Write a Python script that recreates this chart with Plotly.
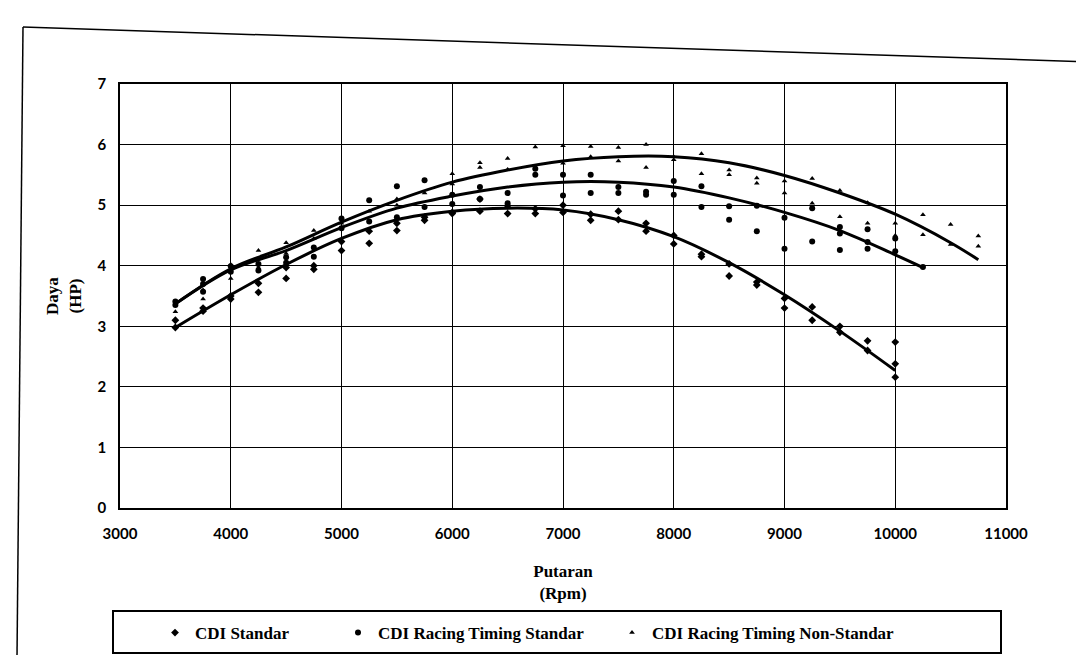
import plotly.graph_objects as go

# ---------------- data ----------------
rpm_grid = [3500, 3750, 4000, 4250, 4500, 4750, 5000, 5250, 5500, 5750,
            6000, 6250, 6500, 6750, 7000, 7250, 7500, 7750, 8000, 8250,
            8500, 8750, 9000, 9250, 9500, 9750, 10000, 10250, 10500, 10750]

cdi_standar_runs = [
    [2.98, 3.10], [3.25, 3.30], [3.50, 3.45], [3.56, 3.71], [3.79, 3.97],
    [3.94, 4.00], [4.25, 4.40], [4.37, 4.57], [4.58, 4.70], [4.75, 4.80],
    [4.88, 4.86], [4.90, 5.10], [4.86, 4.99], [4.86, 4.94], [4.88, 5.00],
    [4.75, 4.85], [4.76, 4.90], [4.57, 4.70], [4.36, 4.50], [4.19, 4.15],
    [3.83, 4.03], [3.73, 3.68], [3.30, 3.46], [3.10, 3.32], [2.90, 3.00],
    [2.60, 2.76], [2.16, 2.38, 2.74], [], [], []]

racing_standar_runs = [
    [3.41, 3.35], [3.57, 3.70, 3.78], [3.99, 3.90], [4.03, 3.92], [4.14, 4.05],
    [4.15, 4.30], [4.62, 4.78], [4.73, 5.08], [4.80, 5.31], [4.97, 5.41],
    [5.17, 5.02], [5.10, 5.30], [5.03, 5.20], [5.50, 5.60], [5.16, 5.50],
    [5.50, 5.20], [5.20, 5.30], [5.22, 5.17], [5.17, 5.40], [5.31, 4.97],
    [4.98, 4.76], [4.99, 4.57], [4.79, 4.28], [4.95, 4.40], [4.64, 4.26, 4.53],
    [4.39, 4.60, 4.28], [4.24, 4.45], [3.98], [], []]

racing_non_standar_runs = [
    [3.24], [3.45, 3.60], [3.79, 4.02], [4.25, 3.97], [4.38, 4.20],
    [4.58, 4.45], [4.78, 4.70], [4.90], [5.00, 5.10], [5.20],
    [5.52, 5.35], [5.62, 5.70], [5.77, 5.59], [5.96, 5.61], [5.98, 5.69],
    [5.97, 5.80], [5.95, 5.73], [6.00, 5.62], [5.80, 5.75], [5.85, 5.52],
    [5.50, 5.58], [5.36, 5.45], [5.20, 5.40], [5.44, 5.03], [5.24, 4.81],
    [5.04, 4.70], [4.50, 4.70], [4.84, 4.51], [4.68, 4.35], [4.49, 4.32]]

# trend lines
trend_std_rpm = [3500, 4000, 4500, 5000, 5500, 6000, 6500, 7000, 7500, 8000, 8500, 9000, 9500, 10000]
trend_std_val = [2.98, 3.52, 4.02, 4.45, 4.76, 4.90, 4.95, 4.92, 4.76, 4.48, 4.05, 3.52, 2.92, 2.27]

trend_rts_rpm = [3500, 4000, 4500, 5000, 5500, 6000, 6500, 7000, 7500, 8000, 8500, 9000, 9500, 10000, 10250]
trend_rts_val = [3.37, 3.93, 4.25, 4.63, 4.95, 5.15, 5.30, 5.38, 5.38, 5.30, 5.12, 4.88, 4.58, 4.18, 3.97]

trend_ns_rpm = [3500, 4000, 4500, 5000, 5500, 6000, 6500, 7000, 7500, 8000, 8500, 9000, 9500, 10000, 10500, 10750]
trend_ns_val = [3.37, 3.95, 4.31, 4.72, 5.08, 5.38, 5.58, 5.73, 5.80, 5.80, 5.70, 5.49, 5.20, 4.85, 4.38, 4.10]

series_names = ["CDI Standar", "CDI Racing Timing Standar", "CDI Racing Timing Non-Standar"]

x_ticks = [3000, 4000, 5000, 6000, 7000, 8000, 9000, 10000, 11000]
y_ticks = [0, 1, 2, 3, 4, 5, 6, 7]


def flatten(runs):
    xs, ys = [], []
    for r, vals in zip(rpm_grid, runs):
        for v in vals:
            xs.append(r)
            ys.append(v)
    return xs, ys


fig = go.Figure()

styles = [
    (cdi_standar_runs, "diamond", 6, "legend"),
    (racing_standar_runs, "circle", 6, "legend2"),
    (racing_non_standar_runs, "triangle-up", 5, "legend3"),
]
for name, (runs, sym, size, lg) in zip(series_names, styles):
    xs, ys = flatten(runs)
    fig.add_trace(go.Scatter(
        x=xs, y=ys, mode="markers", name=name, legend=lg,
        marker=dict(symbol=sym, size=size, color="black"),
    ))

for rx, ry in [(trend_std_rpm, trend_std_val), (trend_rts_rpm, trend_rts_val), (trend_ns_rpm, trend_ns_val)]:
    fig.add_trace(go.Scatter(
        x=rx, y=ry, mode="lines", showlegend=False, hoverinfo="skip",
        line=dict(color="black", width=3, shape="spline", smoothing=1.0),
    ))

W, H = 1084, 655
L, R, T, B = 112, 86, 76, 155
pw, ph = W - L - R, H - T - B


def px(x):
    return (x - L) / pw


def py(y):
    return (H - B - y) / ph


tick_font = dict(family="Lato", size=15, color="black", weight="bold")
title_font = dict(family="Liberation Serif", size=17, color="black", weight="bold")
legend_font = dict(family="Liberation Serif", size=17, color="black", weight="bold")

fig.update_layout(
    width=W, height=H,
    margin=dict(l=L, r=R, t=T, b=B),
    paper_bgcolor="white", plot_bgcolor="white",
    showlegend=True,
    xaxis=dict(
        range=[3000, 11000], tickvals=x_ticks, ticktext=[str(v) for v in x_ticks],
        showgrid=True, gridcolor="black", gridwidth=1,
        showline=True, linecolor="black", linewidth=1.5, mirror=True,
        zeroline=False, ticks="", tickfont=tick_font, ticklabelstandoff=11,
        title=dict(text="Putaran<br>(Rpm)", font=title_font, standoff=24),
    ),
    yaxis=dict(
        range=[0, 7], tickvals=y_ticks, ticktext=[str(v) for v in y_ticks],
        showgrid=True, gridcolor="black", gridwidth=1,
        showline=True, linecolor="black", linewidth=1.5, mirror=True,
        zeroline=False, ticks="", tickfont=tick_font, ticklabelstandoff=9,
        title=dict(text="Daya<br>(HP)", font=title_font, standoff=12),
    ),
    legend=dict(x=px(147), y=py(625), xanchor="left", yanchor="middle",
                orientation="h", bgcolor="rgba(0,0,0,0)", font=legend_font),
    legend2=dict(x=px(330), y=py(625), xanchor="left", yanchor="middle",
                 orientation="h", bgcolor="rgba(0,0,0,0)", font=legend_font),
    legend3=dict(x=px(604), y=py(625), xanchor="left", yanchor="middle",
                 orientation="h", bgcolor="rgba(0,0,0,0)", font=legend_font),
    shapes=[
        # legend box
        dict(type="rect", xref="paper", yref="paper",
             x0=px(105), x1=px(993), y0=py(603), y1=py(645),
             line=dict(color="black", width=2), fillcolor="rgba(0,0,0,0)"),
        # outer chart frame (scanned page is slightly tilted)
        dict(type="line", xref="paper", yref="paper",
             x0=px(15), y0=py(19), x1=px(1084), y1=py(54),
             line=dict(color="black", width=1.5)),
        dict(type="line", xref="paper", yref="paper",
             x0=px(15), y0=py(19), x1=px(9), y1=py(649),
             line=dict(color="black", width=1.5)),
        dict(type="line", xref="paper", yref="paper",
             x0=px(9), y0=py(649), x1=px(1084), y1=py(655),
             line=dict(color="black", width=1.5)),
    ],
)

fig.write_html("out.html")
